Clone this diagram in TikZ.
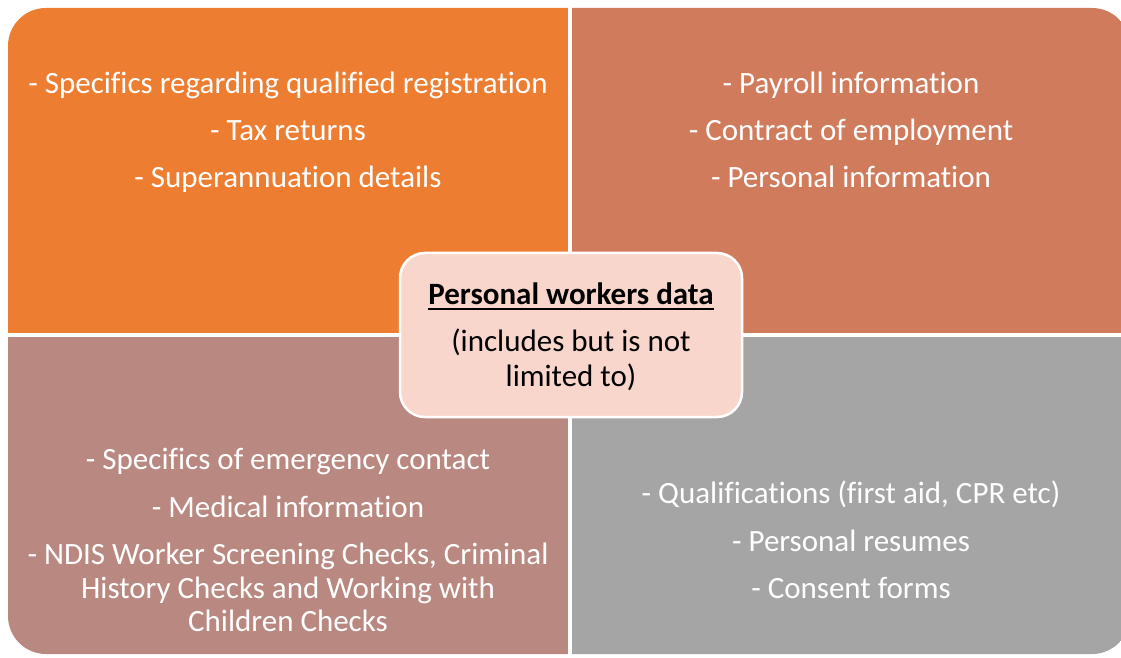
\documentclass[tikz,border=0pt]{standalone}
\usepackage{fontspec}
\usetikzlibrary{calc}
\setmainfont{Carlito}[Ligatures={NoCommon}]
\definecolor{qTL}{HTML}{ED7D31}
\definecolor{qTR}{HTML}{D17B5D}
\definecolor{qBL}{HTML}{B98981}
\definecolor{qBR}{HTML}{A5A5A5}
\definecolor{cfill}{HTML}{F8D6CB}
\begin{document}
\begin{tikzpicture}[x=1pt,y=1pt,
  qtext/.style={text=white,font=\fontsize{31}{34}\selectfont,anchor=base,align=center,inner sep=0pt},
  ctext/.style={text=black,font=\fontsize{31}{34}\selectfont,anchor=base,align=center,inner sep=0pt}]
\useasboundingbox (0,0) rectangle (1121,657);
\begin{scope}
\clip[rounded corners=38pt] (8,3) rectangle (1130,649);
\fill[qTL] (0,322) rectangle (570,657);
\fill[qTR] (570,322) rectangle (1140,657);
\fill[qBL] (0,0) rectangle (570,322);
\fill[qBR] (570,0) rectangle (1140,322);
\end{scope}
\fill[white] (568,0) rectangle (572,657);
\fill[white] (0,320) rectangle (1140,324);
% top-left
\node[qtext] (tl1) at (288,563.5) {- Specifics regarding qualified registration};
\node[qtext] (tl2) at (288,516.5) {- Tax returns};
\node[qtext] (tl3) at (288,469.5) {- Superannuation details};
% top-right
\node[qtext] (tr1) at (851,563.5) {- Payroll information};
\node[qtext] (tr2) at (851,516.5) {- Contract of employment};
\node[qtext] (tr3) at (851,469.5) {- Personal information};
% bottom-left
\node[qtext] (bl1) at (288,188) {- Specifics of emergency contact};
\node[qtext] (bl2) at (288,140) {- Medical information};
\node[qtext] (bl3) at (288,93) {- NDIS Worker Screening Checks, Criminal};
\node[qtext] (bl4) at (288,59) {History Checks and Working with};
\node[qtext] (bl5) at (288,26) {Children Checks};
% bottom-right
\node[qtext] (br1) at (851,154) {- Qualifications (first aid, CPR etc)};
\node[qtext] (br2) at (851,106) {- Personal resumes};
\node[qtext] (br3) at (851,59) {- Consent forms};
% center
\filldraw[fill=cfill,draw=white,line width=2.5pt,rounded corners=25pt] (400,240) rectangle (742,404);
\node[ctext,font=\fontsize{31}{34}\selectfont\bfseries] (c1) at (571,353) {Personal workers data};
\draw[line width=1.6pt] ($(c1.base west)+(0,-5)$) -- ($(c1.base east)+(0,-5)$);
\node[ctext] (c2) at (571,306) {(includes but is not};
\node[ctext] (c3) at (571,271) {limited to)};
\end{tikzpicture}
\end{document}
